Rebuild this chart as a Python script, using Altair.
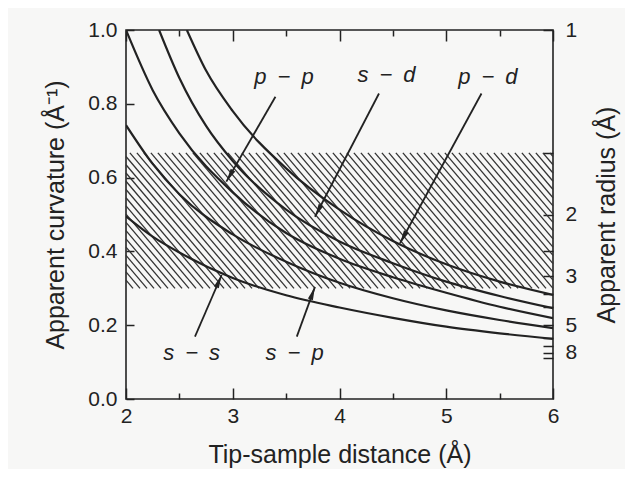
import math
import altair as alt
import pandas as pd

# ---------------- data ----------------
x_low = [2.0, 2.25, 2.5, 3.0, 3.5, 4.0, 4.5, 5.0, 5.5, 6.0]
curv_ss = [0.495, 0.440, 0.397, 0.328, 0.281, 0.248, 0.220, 0.196, 0.178, 0.163]
curv_sp = [0.742, 0.637, 0.555, 0.446, 0.372, 0.315, 0.273, 0.240, 0.214, 0.192]
curv_pp = [1.000, 0.837, 0.720, 0.560, 0.450, 0.380, 0.330, 0.288, 0.250, 0.219]
x_sd = [2.31, 2.5, 2.75, 3.0, 3.5, 4.0, 4.5, 5.0, 5.5, 6.0]
curv_sd = [1.000, 0.870, 0.740, 0.645, 0.513, 0.427, 0.368, 0.318, 0.279, 0.246]
x_pd = [2.57, 2.75, 3.0, 3.5, 4.0, 4.5, 5.0, 5.5, 6.0]
curv_pd = [1.000, 0.890, 0.780, 0.625, 0.513, 0.428, 0.365, 0.318, 0.282]

band_low, band_high = 0.30, 0.667          # hatched curvature range

x_major = [2, 3, 4, 5, 6]
x_minor = [2.5, 3.5, 4.5, 5.5]
y_major = [0.0, 0.2, 0.4, 0.6, 0.8, 1.0]
radius_ticks = [1, 1.5, 2, 2.5, 3, 3.5, 4, 5, 6, 7, 8, 9]
radius_labels = [1, 2, 3, 5, 8]

label_text = ["p\u2002\u2212\u2002p", "s\u2002\u2212\u2002d", "p\u2002\u2212\u2002d",
              "s\u2002\u2212\u2002s", "s\u2002\u2212\u2002p"]
label_x = [3.48, 4.44, 5.39, 2.615, 3.58]
label_y = [0.873, 0.878, 0.873, 0.125, 0.125]
arrow_tail_x = [3.40, 4.37, 5.33, 2.646, 3.60]
arrow_tail_y = [0.819, 0.828, 0.828, 0.169, 0.169]
arrow_tip_x = [2.94, 3.77, 4.567, 2.896, 3.77]
arrow_tip_y = [0.589, 0.494, 0.422, 0.336, 0.304]

# ---------------- layout / style ----------------
W, H = 427, 369
XMIN, XMAX = 2.0, 6.0
px_per_x = W / (XMAX - XMIN)
px_per_y = H / 1.0
ink = "#222222"
FONT = "Liberation Sans"

# ---------------- build tables ----------------
rows = []
for name, xs_, ys_ in [("s-s", x_low, curv_ss), ("s-p", x_low, curv_sp), ("p-p", x_low, curv_pp),
                       ("s-d", x_sd, curv_sd), ("p-d", x_pd, curv_pd)]:
    for a, b in zip(xs_, ys_):
        rows.append({"curve": name, "x": a, "y": b})
curve_df = pd.DataFrame(rows)

# hatch lines (decoration of the band), slanting down to the right
hatch_spacing_px = 7.0
hatch_dxdy = 0.85
band_px = (band_high - band_low) * px_per_y
dx_data = hatch_dxdy * band_px / px_per_x
step = hatch_spacing_px / px_per_x
hrows = []
x0 = XMIN - dx_data
while x0 < XMAX:
    xa, ya = x0, band_high
    xb, yb = x0 + dx_data, band_low
    if xa < XMIN:
        ya = band_high - (XMIN - x0) / dx_data * (band_high - band_low)
        xa = XMIN
    if xb > XMAX:
        yb = band_high - (XMAX - x0) / dx_data * (band_high - band_low)
        xb = XMAX
    hrows.append({"x0": xa, "y0": ya, "x1": xb, "y1": yb})
    x0 += step
hatch_df = pd.DataFrame(hrows)

arows = []
for tx, ty, hx, hy in zip(arrow_tail_x, arrow_tail_y, arrow_tip_x, arrow_tip_y):
    dx = (hx - tx) * px_per_x
    dy = -(hy - ty) * px_per_y
    ang = math.degrees(math.atan2(dx, -dy)) % 360
    arows.append({"tx": tx, "ty": ty, "hx": hx, "hy": hy, "ang": ang})
arrow_df = pd.DataFrame(arows)

label_df = pd.DataFrame({"x": label_x, "y": label_y, "t": label_text})

xs = alt.Scale(domain=[XMIN, XMAX], nice=False, zero=False)
ys = alt.Scale(domain=[0, 1], nice=False, zero=False)

lab_list = ",".join(str(r) for r in radius_labels)
right_expr = ("indexof([%s], round(1/datum.value)) >= 0 && abs(1/datum.value - round(1/datum.value)) < 0.01"
              " ? format(round(1/datum.value), 'd') : ''" % lab_list)

hatch = alt.Chart(hatch_df).mark_rule(color="#333333", strokeWidth=1.3).encode(
    x=alt.X("x0:Q", scale=xs, axis=alt.Axis(orient="bottom", values=x_major, format="d", tickSize=11,
                                            offset=-11, labelPadding=6, labelFlush=False,
                                            title="Tip-sample distance (Å)", titlePadding=16,
                                            domain=False, grid=False)),
    x2="x1:Q",
    y=alt.Y("y0:Q", scale=ys, axis=alt.Axis(orient="left", values=y_major, format=".1f", tickSize=8,
                                            offset=-8, labelPadding=9, labelFlush=False,
                                            title="Apparent curvature (Å⁻¹)", titlePadding=19,
                                            domain=False, grid=False)),
    y2="y1:Q",
)

curves = alt.Chart(curve_df).mark_line(color=ink, strokeWidth=2.2, interpolate="monotone", clip=True).encode(
    x=alt.X("x:Q", scale=xs, axis=alt.Axis(orient="top", values=x_major, tickSize=11, offset=-11,
                                           labels=False, title=None, domain=False, grid=False)),
    y=alt.Y("y:Q", scale=ys, axis=alt.Axis(orient="right", values=[1.0 / r for r in radius_ticks],
                                           tickSize=10, offset=-10, labelPadding=12, labelExpr=right_expr,
                                           labelOverlap=False, labelFlush=False,
                                           title="Apparent radius (Å)", titleAngle=270, titlePadding=43,
                                           domain=False, grid=False)),
    detail="curve:N",
)

arrows = alt.Chart(arrow_df).mark_rule(color=ink, strokeWidth=1.8).encode(
    x=alt.X("tx:Q", scale=xs, axis=alt.Axis(orient="bottom", values=x_minor, tickSize=6, offset=-6,
                                            labels=False, title=None, domain=False, grid=False)),
    y=alt.Y("ty:Q", scale=ys, axis=None),
    x2="hx:Q",
    y2="hy:Q",
)

HEAD = "M0,0L0.42,2.1L-0.42,2.1Z"
heads = alt.Chart(arrow_df).mark_point(shape=HEAD, size=160, filled=True, color=ink, opacity=1,
                                       strokeWidth=0).encode(
    x=alt.X("hx:Q", scale=xs, axis=alt.Axis(orient="top", values=x_minor, tickSize=6, offset=-6,
                                            labels=False, title=None, domain=False, grid=False)),
    y=alt.Y("hy:Q", scale=ys, axis=None),
    angle=alt.Angle("ang:Q", scale=None),
)

labels = alt.Chart(label_df).mark_text(font=FONT, fontSize=22, fontStyle="italic", color=ink).encode(
    x=alt.X("x:Q", scale=xs, axis=None),
    y=alt.Y("y:Q", scale=ys, axis=None),
    text="t:N",
)

chart = (
    alt.layer(hatch, curves, arrows, heads, labels)
    .resolve_axis(x="independent", y="independent")
    .properties(width=W, height=H, autosize=alt.AutoSizeParams(type="none"),
                padding={"left": 118, "top": 22, "right": 72, "bottom": 70},
                background="#f7f7f6")
    .configure_view(stroke=ink, strokeWidth=1.6)
    .configure_axis(labelFont=FONT, titleFont=FONT, labelFontSize=21, titleFontSize=25,
                    titleFontWeight="normal", labelColor=ink, titleColor=ink, tickColor=ink,
                    tickWidth=1.5)
)

chart.save("out.html", embed_options={"renderer": "svg", "actions": False})
